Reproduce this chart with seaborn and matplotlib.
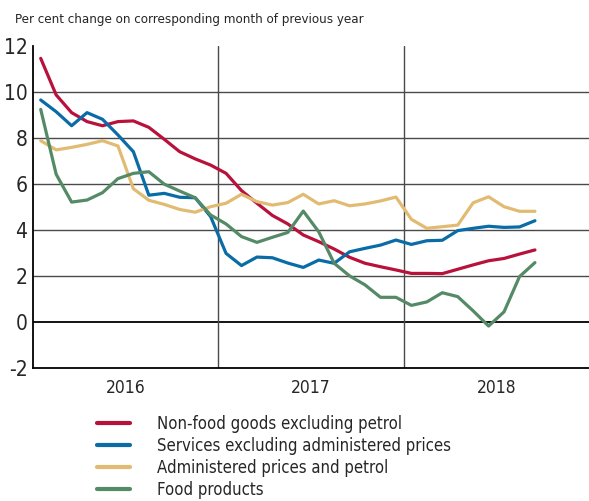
import numpy as np
import pandas as pd
import seaborn as sns
import matplotlib.pyplot as plt

# monthly values, Jan 2016 .. Sep 2018 (per cent change y/y)
non_food = [11.45, 9.86, 9.09, 8.70, 8.52, 8.70, 8.73, 8.45, 7.93, 7.39,
            7.08, 6.81, 6.45, 5.70, 5.15, 4.62, 4.25, 3.77, 3.48, 3.16,
            2.80, 2.54, 2.39, 2.25, 2.10, 2.10, 2.09, 2.28, 2.47, 2.65,
            2.75, 2.94, 3.12]
services = [9.64, 9.13, 8.52, 9.09, 8.80, 8.12, 7.39, 5.50, 5.58, 5.41,
            5.39, 4.57, 2.97, 2.44, 2.81, 2.78, 2.55, 2.36, 2.68, 2.54,
            3.04, 3.19, 3.33, 3.55, 3.36, 3.52, 3.54, 3.96, 4.06, 4.15,
            4.10, 4.12, 4.39]
administered = [7.87, 7.47, 7.58, 7.71, 7.87, 7.64, 5.78, 5.28, 5.10, 4.88,
                4.76, 5.00, 5.15, 5.54, 5.22, 5.07, 5.18, 5.54, 5.12, 5.26,
                5.04, 5.12, 5.25, 5.42, 4.45, 4.06, 4.13, 4.20, 5.17, 5.43,
                5.00, 4.80, 4.80]
food = [9.23, 6.41, 5.20, 5.29, 5.61, 6.22, 6.45, 6.52, 5.98, 5.68,
        5.39, 4.64, 4.25, 3.70, 3.45, 3.67, 3.88, 4.81, 3.91, 2.54,
        1.99, 1.60, 1.06, 1.06, 0.71, 0.86, 1.26, 1.09, 0.47, -0.19,
        0.43, 1.96, 2.57]

series_names = ["Non-food goods excluding petrol",
                "Services excluding administered prices",
                "Administered prices and petrol",
                "Food products"]
colors = ["#b8123c", "#0a6ca6", "#e2bb72", "#558a66"]
years = ["2016", "2017", "2018"]
yticks = [-2, 0, 2, 4, 6, 8, 10, 12]

# mid-month positions, months since Jan 2016
months = np.arange(len(non_food)) + 0.5
df = pd.DataFrame({"month": np.tile(months, 4),
                   "value": non_food + services + administered + food,
                   "series": np.repeat(series_names, len(months))})

sns.set_theme(style="white")
plt.rcParams['font.family'] = ['DejaVu Sans']
plt.rcParams['font.stretch'] = 'condensed'

fig = plt.figure(figsize=(5.89, 5.01), dpi=100)
ax = fig.add_axes([33 / 589, 1 - 367.7 / 501, 1 - 33 / 589, (367.7 - 45.7) / 501])

# grid lines (no line on top at 12)
for v in yticks[1:-1]:
    ax.axhline(v, color="black" if v == 0 else "#4a4a4a",
               lw=1.3 if v == 0 else 1.0, zorder=1)
for x in [12, 24]:
    ax.axvline(x, color="#4a4a4a", lw=1.0, zorder=1)

sns.lineplot(data=df, x="month", y="value", hue="series", hue_order=series_names,
             palette=colors, linewidth=2.3, ax=ax, zorder=3)

ax.set_xlim(0, 36)
ax.set_ylim(-2, 12)
ax.set_yticks(yticks)
ax.set_yticklabels([str(t) for t in yticks], fontsize=15)
ax.set_xticks([6, 18, 30])
ax.set_xticklabels(years, fontsize=12.5)
ax.tick_params(axis="both", length=0)
ax.tick_params(axis="y", pad=4)
ax.tick_params(axis="x", pad=8)
ax.set_xlabel("")
ax.set_ylabel("")
for s in ["top", "right"]:
    ax.spines[s].set_visible(False)
for s in ["left", "bottom"]:
    ax.spines[s].set_color("black")
    ax.spines[s].set_linewidth(1.3)

fig.text(15 / 589, 1 - 19 / 501, "Per cent change on corresponding month of previous year",
         fontsize=9.5, va="center", ha="left")

sns.move_legend(ax, "upper left", bbox_to_anchor=(90 / 589, 1 - 408 / 501),
                bbox_transform=fig.transFigure, frameon=False, title=None,
                fontsize=12, handlelength=2.0, handletextpad=1.6,
                labelspacing=0.25, borderaxespad=0)
for line in ax.get_legend().get_lines():
    line.set_linewidth(3)

fig.savefig("out.png", dpi=100)
